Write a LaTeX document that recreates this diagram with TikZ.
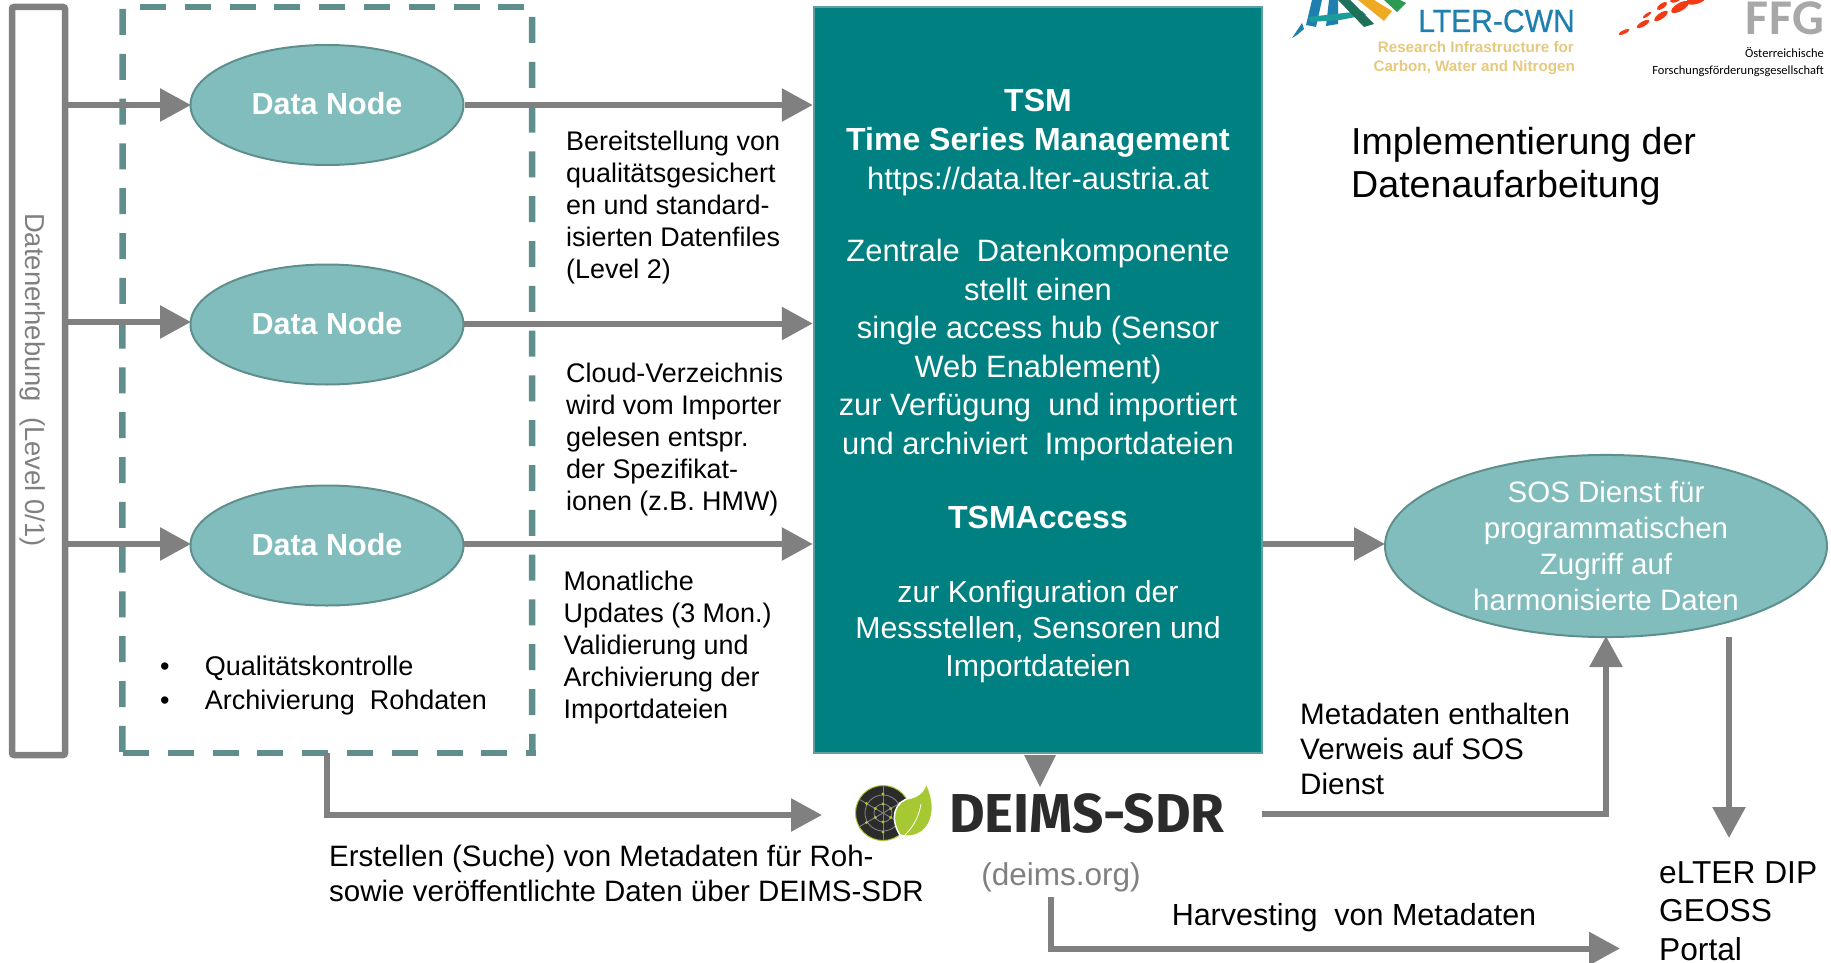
\documentclass[tikz,border=0pt]{standalone}
\usepackage{fontspec}
\setmainfont{Liberation Sans}
\newfontfamily\deimsfont{Fira Sans}
\newfontfamily\ffgfont{Carlito}
\newfontfamily\lterfont[FakeBold=0.6]{Liberation Sans}
\usetikzlibrary{arrows.meta,shapes.geometric}
\definecolor{linegray}{HTML}{808080}
\definecolor{dashteal}{HTML}{5F8F8D}
\definecolor{tsmteal}{HTML}{008080}
\definecolor{tsmedge}{HTML}{5F9EA0}
\definecolor{nodeteal}{HTML}{82BDBD}
\definecolor{leafgreen}{HTML}{A6C832}
\definecolor{deimsdark}{HTML}{2B2B2B}
\definecolor{lterblue}{HTML}{1F7FAE}
\definecolor{lterteal}{HTML}{1D9C9C}
\definecolor{lterdark}{HTML}{1E7058}
\definecolor{ltergreen}{HTML}{2C9A50}
\definecolor{lteryellow}{HTML}{EDAA22}
\definecolor{lterbeige}{HTML}{E6C97E}
\definecolor{ffgred}{HTML}{F23A14}
\definecolor{ffggray}{HTML}{A8A8A8}
\newcommand{\dnlabel}{\raisebox{3pt}{Data Node}\hspace{7pt}}
\newcommand{\tsmbold}[1]{{\fontsize{32}{38.5}\selectfont\bfseries #1}}
\newcommand{\tsmsmall}[1]{{\fontsize{30.3}{38.5}\selectfont #1}}
\tikzset{
  conn/.style={draw=linegray,line width=6pt},
  arrowconn/.style={conn,-{Triangle[length=31pt,width=32pt]}},
  datanode/.style={ellipse,draw=dashteal,line width=2pt,fill=nodeteal,minimum width=273pt,minimum height=120pt,inner sep=0pt,text=white,font=\fontsize{30.5}{36}\selectfont\bfseries},
  dashside/.style={draw=dashteal,line width=6.5pt,dash pattern=on 26pt off 18.8pt},
  body/.style={align=left,inner sep=0pt,font=\fontsize{26.9}{32}\selectfont},
}
\begin{document}
\begin{tikzpicture}[x=1pt,y=-1pt]
\useasboundingbox (0,0) rectangle (1831,963);
% logos clipped by the page top
\begin{scope}
\clip (0,0) rectangle (1831,963);
\fill[lterblue] (1292,38) -- (1302,23) -- (1304,29) -- (1297,35) -- cycle;
\fill[lterblue] (1306,25) -- (1312,0) -- (1322,0) -- (1316,27) -- cycle;
\fill[lterblue] (1326,26) -- (1329,0) -- (1338,0) -- (1338,24) -- cycle;
\fill[lterteal] (1308,17) -- (1362,11) -- (1366,15) -- (1340,20) -- (1310,22) -- cycle;
\fill[lterdark] (1338,0) -- (1350,0) -- (1374,24) -- (1364,27) -- cycle;
\fill[lteryellow] (1358,0) -- (1374,0) -- (1392,11) -- (1384,21) -- cycle;
\fill[ltergreen] (1384,0) -- (1400,0) -- (1406,3) -- (1397,12) -- cycle;
\foreach \ex/\ey/\ea/\eb/\er in {1624/32/6/1.8/25,1643/24/7/2.5/30,1647/15/5/1.6/35,1661/16/8/3/35,1662/6/6/2.5/35,1680/7/10/4/30,1696/0/10/4/15,1675/0/5/2.5/15}
  \fill[ffgred,shift={(\ex,\ey)},rotate=\er] (0,0) ellipse (\ea pt and \eb pt);
\end{scope}
\node[inner sep=0pt,anchor=base east,xscale=0.94,text=lterblue,font=\lterfont\fontsize{32}{36}\selectfont] (ltername) at (1575,32) {LTER-CWN};
\node[inner sep=0pt,anchor=base east,text=lterbeige,font=\fontsize{15.2}{17}\selectfont\bfseries] (lterline1) at (1574,52.5) {Research Infrastructure for};
\node[inner sep=0pt,anchor=base east,text=lterbeige,font=\fontsize{15.2}{17}\selectfont\bfseries] (lterline2) at (1575,71.5) {Carbon, Water and Nitrogen};
\node[inner sep=0pt,anchor=base east,text=ffggray,font=\ffgfont\fontsize{50}{54}\selectfont\bfseries] (ffgname) at (1825,35) {F\kern1pt F\kern1pt G};
\node[inner sep=0pt,anchor=base east,font=\ffgfont\fontsize{12.5}{15}\selectfont] (ffgline1) at (1824,58) {Österreichische};
\node[inner sep=0pt,anchor=base east,font=\ffgfont\fontsize{12.5}{15}\selectfont] (ffgline2) at (1824,75) {Forschungsförderungsgesellschaft};
% source box
\node[draw=linegray,line width=6.5pt,rounded corners=2pt,minimum width=53pt,minimum height=748pt,inner sep=0pt] (src) at (38.5,381) {};
\node[rotate=-90,inner sep=0pt,text=linegray,font=\fontsize{27.4}{32}\selectfont] (srclabel) at (33,380) {Datenerhebung\ \ (Level 0/1)};
% dashed box
\node[minimum width=409.5pt,minimum height=746pt,inner sep=0pt] (dbox) at (327.3,380) {};
\draw[dashside] (122.6,9) -- (dbox.south west);
\draw[dashside] (140,7) -- (524,7);
\draw[dashside] (532,17) -- (dbox.south east);
\draw[dashside] (123,753) -- (536,753);
% data nodes
\node[datanode] (dn1) at (327,105) {\dnlabel};
\node[datanode] (dn2) at (327,324.5) {\dnlabel};
\node[datanode] (dn3) at (327,545.5) {\dnlabel};
% TSM
\node[rectangle,draw=tsmedge,line width=2.5pt,fill=tsmteal,minimum width=448pt,minimum height=746pt,inner sep=0pt] (tsm) at (1038,380) {};
\node[text=white,inner sep=0pt,align=center,font=\fontsize{30.9}{38.5}\selectfont] (tsmtext) at (1038,385.5) {%
\tsmbold{TSM}\\[1.2pt] \tsmbold{Time Series Management}\\ https://data.lter-austria.at\\[33.9pt]
Zentrale\ \ Datenkomponente\\ stellt einen\\ single access hub (Sensor\\ Web Enablement)\\ zur Verfügung\ \ und importiert\\ und archiviert\ \ Importdateien\\[36.2pt]
\tsmbold{TSMAccess}\\[35.1pt]
\tsmsmall{zur Konfiguration der}\\[-2.3pt] \tsmsmall{Messstellen, Sensoren und}\\[-1.1pt] \tsmsmall{Importdateien}};
% SOS
\node[ellipse,draw=dashteal,line width=2pt,fill=nodeteal,text=white,minimum width=442pt,minimum height=182pt,inner sep=0pt,align=center,font=\fontsize{29.5}{35.7}\selectfont] (sos) at (1606,546) {SOS Dienst für\\ programmatischen\\ Zugriff auf\\ harmonisierte Daten};
% texts
\node[body,anchor=west] (t1) at (566,208) {Bereitstellung von\\ qualitätsgesichert\\ en und standard-\\ isierten Datenfiles\\ (Level 2)};
\node[body,anchor=west] (t2) at (566,439.5) {Cloud-Verzeichnis\\ wird vom Importer\\ gelesen entspr.\\ der Spezifikat-\\ ionen (z.B. HMW)};
\node[body,anchor=west] (t3) at (563.5,648) {Monatliche\\ Updates (3 Mon.)\\ Validierung und\\ Archivierung der\\ Importdateien};
\node[align=left,inner sep=0pt,anchor=west,font=\fontsize{27}{34}\selectfont] (bul) at (160,685.5) {\makebox[44.6pt][l]{•}Qualitätskontrolle\\ \makebox[44.6pt][l]{•}Archivierung\ \ Rohdaten};
\node[align=left,inner sep=0pt,anchor=west,font=\fontsize{29.5}{35}\selectfont] (t4) at (329,873) {Erstellen (Suche) von Metadaten für Roh-\\ sowie veröffentlichte Daten über DEIMS-SDR};
\node[align=left,inner sep=0pt,anchor=west,font=\fontsize{29.6}{35}\selectfont] (t5) at (1300,749) {Metadaten enthalten\\ Verweis auf SOS\\ Dienst};
\node[inner sep=0pt,font=\fontsize{30.5}{36}\selectfont] (t6) at (1354,917.5) {Harvesting\ \ von Metadaten};
\node[align=left,inner sep=0pt,anchor=west,font=\fontsize{31.7}{38.5}\selectfont] (elter) at (1659,911) {eLTER DIP\\ GEOSS\\ Portal};
\node[align=left,inner sep=0pt,anchor=west,font=\fontsize{37.6}{43.5}\selectfont] (title) at (1351,166.5) {Implementierung der\\ Datenaufarbeitung};
\node[inner sep=0pt,text=linegray,font=\fontsize{31.5}{36}\selectfont] (deimsurl) at (1061,877) {(deims.org)};
% DEIMS logo
\fill[deimsdark,draw=leafgreen,line width=1pt] (883,813) circle (27.5pt);
\begin{scope}
\clip (883,813) circle (27pt);
\draw[linegray,line width=0.9pt] (883,813) circle (9pt) (883,813) circle (18pt);
\foreach \a in {30,90,150,210,270,330} \draw[linegray,line width=0.9pt] (883,813) -- ++(\a:27pt);
\end{scope}
\foreach \a in {30,90,150,210,270,330} {
  \fill[leafgreen] (883,813) ++(\a:9pt) circle (1.6pt);
  \fill[leafgreen] (883,813) ++(\a:19pt) circle (1.6pt);
}
\fill[leafgreen,draw=white,line width=1.5pt] (900,835) .. controls (889,818) and (895,800) .. (911,798) .. controls (918,796) and (924,792) .. (926,783) .. controls (935,800) and (935,820) .. (923,831) .. controls (915,837) and (906,837) .. (900,835) -- cycle;
\draw[white,line width=0.8pt] (905,835) .. controls (915,825) and (919,815) .. (921,804);
\node[inner sep=0pt,anchor=base west,text=deimsdark,font=\deimsfont\fontsize{54.8}{60}\selectfont\bfseries] (deims) at (949,832) {DEIMS-SDR};
% connectors
\coordinate (dn1in) at (191,105);
\coordinate (dn2in) at (191,322);
\coordinate (dn3in) at (191,544);
\draw[arrowconn] (dn1in -| src.east) -- (dn1in);
\draw[arrowconn] (dn2in -| src.east) -- (dn2in);
\draw[arrowconn] (dn3in -| src.east) -- (dn3in);
\coordinate (dn2out) at (463,323.5);
\coordinate (dn3out) at (463,544);
\draw[arrowconn] (dn1.east) -- (dn1.east -| tsm.west);
\draw[arrowconn] (dn2out) -- (dn2out -| tsm.west);
\draw[arrowconn] (dn3out) -- (dn3out -| tsm.west);
\coordinate (sosin) at (1385,544);
\draw[arrowconn] (sosin -| tsm.east) -- (sosin);
\coordinate (dbottom) at (327,753);
\coordinate (dlogo) at (822,815);
\draw[arrowconn] (dbottom) |- (dlogo);
\coordinate (dtop) at (1040,787);
\fill[linegray] (1024,755) -- (1056,755) -- (dtop) -- cycle;
\coordinate (deimsout) at (1262,814);
\draw[arrowconn,shorten >=-2pt] (deimsout) -| (sos.south);
\coordinate (sosout) at (1729,637);
\coordinate (elterin) at (1729,838);
\draw[arrowconn] (sosout) -- (elterin);
\coordinate (harvfrom) at (1051,897);
\coordinate (harvto) at (1620,948.5);
\draw[arrowconn] (harvfrom) |- (harvto);
\end{tikzpicture}
\end{document}
